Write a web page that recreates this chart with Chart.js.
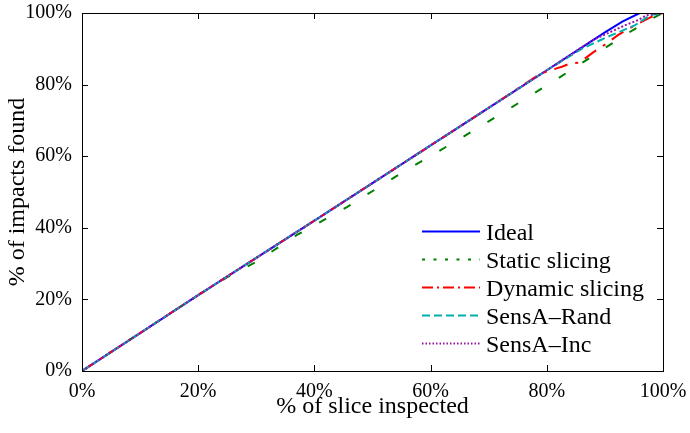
<!DOCTYPE html>
<html>
<head>
<meta charset="utf-8">
<script src="https://cdn.jsdelivr.net/npm/chart.js@4"></script>
<style>
  html, body { margin: 0; padding: 0; background: #fff; }
  #wrap { width: 690px; height: 433px; }
</style>
</head>
<body>
<div id="wrap"><canvas id="impactChart" width="690" height="433"></canvas></div>
<script>
// values (x = % of slice inspected, y = % of impacts found)
const xIdeal = [0, 10, 20, 30, 40, 50, 60, 70, 80, 85, 90, 93, 96, 100];
const yIdeal = [0, 10.6, 21.2, 31.6, 42, 52.5, 63, 73.5, 84, 89.3, 94.6, 97.6, 100, 100];

const xStatic = [0, 10, 20, 25, 30, 37, 45.6, 55, 65.6, 74, 82, 86, 90, 94, 98.3, 100];
const yStatic = [0, 10.6, 21.2, 26.2, 30.5, 38, 45.8, 55.3, 65.4, 73.7, 81.8, 86, 90.2, 94.4, 98.6, 100];

const xDynamic = [0, 10, 20, 30, 40, 50, 60, 70, 78.8, 82.6, 84.2, 85.6, 87.8, 90.4, 92.3, 95.2, 98, 100];
const yDynamic = [0, 10.6, 21.2, 31.6, 42, 52.5, 63, 73.5, 83, 85, 86, 86.1, 88.8, 91.6, 93.9, 96.6, 98.9, 100];

const xRand = [0, 10, 20, 30, 40, 50, 60, 70, 80, 86, 90.4, 95.2, 97.8, 100];
const yRand = [0, 10.6, 21.2, 31.6, 42, 52.5, 63, 73.5, 84, 90, 93.3, 96.6, 99.4, 100];

const xInc = [0, 10, 20, 30, 40, 50, 60, 70, 80, 88, 93.5, 95.7, 97.2, 100];
const yInc = [0, 10.6, 21.2, 31.6, 42, 52.5, 63, 73.5, 84, 92.5, 96.6, 98, 99.4, 100];

const tickValues = [0, 20, 40, 60, 80, 100];
const seriesNames = ['Ideal', 'Static slicing', 'Dynamic slicing', 'SensA\u2013Rand', 'SensA\u2013Inc'];

const FONT = '"Liberation Serif", "Times New Roman", serif';

function pts(xs, ys) { return xs.map((x, i) => ({ x: x, y: ys[i] })); }

const series = [
    { name: seriesNames[0], data: pts(xIdeal, yIdeal), color: '#0000ff', dash: [], legendDash: [] },
    { name: seriesNames[1], data: pts(xStatic, yStatic), color: '#008000', dash: [8, 20], legendDash: [3, 8.5] },
    { name: seriesNames[2], data: pts(xDynamic, yDynamic), color: '#ff0000', dash: [14, 8, 3, 8], legendDash: [11, 4, 2, 4] },
    { name: seriesNames[3], data: pts(xRand, yRand), color: '#00b0b0', dash: [8, 4], legendDash: [8, 4] },
    { name: seriesNames[4], data: pts(xInc, yInc), color: '#9a10a8', dash: [2, 2], legendDash: [1.5, 2] }
];

// box around the plot with inward ticks on all four sides, plus the legend
const framePlugin = {
    id: 'frame',
    afterDraw(chart) {
        const ctx = chart.ctx;
        const a = chart.chartArea;
        const xs = chart.scales.x, ys = chart.scales.y;
        ctx.save();
        ctx.strokeStyle = '#000';
        ctx.lineWidth = 1;
        ctx.setLineDash([]);
        ctx.strokeRect(Math.round(a.left) + 0.5, Math.round(a.top) + 0.5,
            Math.round(a.right - a.left), Math.round(a.bottom - a.top));
        const tl = 6;
        ctx.beginPath();
        tickValues.forEach(v => {
            const px = Math.round(xs.getPixelForValue(v)) + 0.5;
            ctx.moveTo(px, a.bottom); ctx.lineTo(px, a.bottom - tl);
            ctx.moveTo(px, a.top); ctx.lineTo(px, a.top + tl);
            const py = Math.round(ys.getPixelForValue(v)) + 0.5;
            ctx.moveTo(a.left, py); ctx.lineTo(a.left + tl, py);
            ctx.moveTo(a.right, py); ctx.lineTo(a.right - tl, py);
        });
        ctx.stroke();

        // legend
        const lx0 = 422, lx1 = 480, tx = 486;
        ctx.font = '24px ' + FONT;
        ctx.fillStyle = '#000';
        ctx.textBaseline = 'alphabetic';
        series.forEach((s, i) => {
            const base = 240 + i * 28;
            const ly = base - 8.5;
            ctx.strokeStyle = s.color;
            ctx.lineWidth = 2;
            ctx.setLineDash(s.legendDash);
            ctx.beginPath();
            ctx.moveTo(lx0, ly); ctx.lineTo(lx1, ly);
            ctx.stroke();
            ctx.fillText(s.name, tx, base);
        });
        ctx.restore();
    }
};

const ctx = document.getElementById('impactChart').getContext('2d');
let impactChart = new Chart(ctx, {
    type: 'line',
    data: {
        datasets: series.map((s, i) => ({
            label: s.name,
            data: s.data,
            borderColor: s.color,
            borderDash: s.dash,
            borderWidth: 2,
            pointRadius: 0,
            fill: false,
            tension: 0,
            order: series.length - 1 - i
        }))
    },
    options: {
        responsive: false,
        animation: false,
        layout: { padding: { top: 13, right: 27, left: 0, bottom: 0 } },
        plugins: {
            legend: { display: false },
            tooltip: { enabled: false }
        },
        scales: {
            x: {
                type: 'linear',
                min: 0, max: 100,
                afterFit: s => { s.height = 62; s.paddingLeft = 0; s.paddingRight = 0; },
                afterBuildTicks: s => { s.ticks = tickValues.map(v => ({ value: v })); },
                grid: { display: false, drawTicks: false },
                border: { display: false },
                ticks: {
                    padding: 9,
                    color: '#000',
                    maxRotation: 0,
                    autoSkip: false,
                    font: { family: FONT, size: 20 },
                    callback: v => v + '%'
                },
                title: {
                    display: true,
                    text: '% of slice inspected',
                    color: '#000',
                    font: { family: FONT, size: 24 },
                    padding: { top: 0, bottom: 12 }
                }
            },
            y: {
                min: 0, max: 100,
                afterFit: s => { s.width = 82; s.paddingTop = 0; s.paddingBottom = 0; },
                afterBuildTicks: s => { s.ticks = tickValues.map(v => ({ value: v })); },
                grid: { display: false, drawTicks: false },
                border: { display: false },
                ticks: {
                    padding: 10,
                    color: '#000',
                    autoSkip: false,
                    font: { family: FONT, size: 20 },
                    callback: v => v + '%'
                },
                title: {
                    display: true,
                    text: '% of impacts found',
                    color: '#000',
                    font: { family: FONT, size: 24 },
                    padding: { top: 3, bottom: 0 }
                }
            }
        }
    },
    plugins: [framePlugin]
});
</script>
</body>
</html>
